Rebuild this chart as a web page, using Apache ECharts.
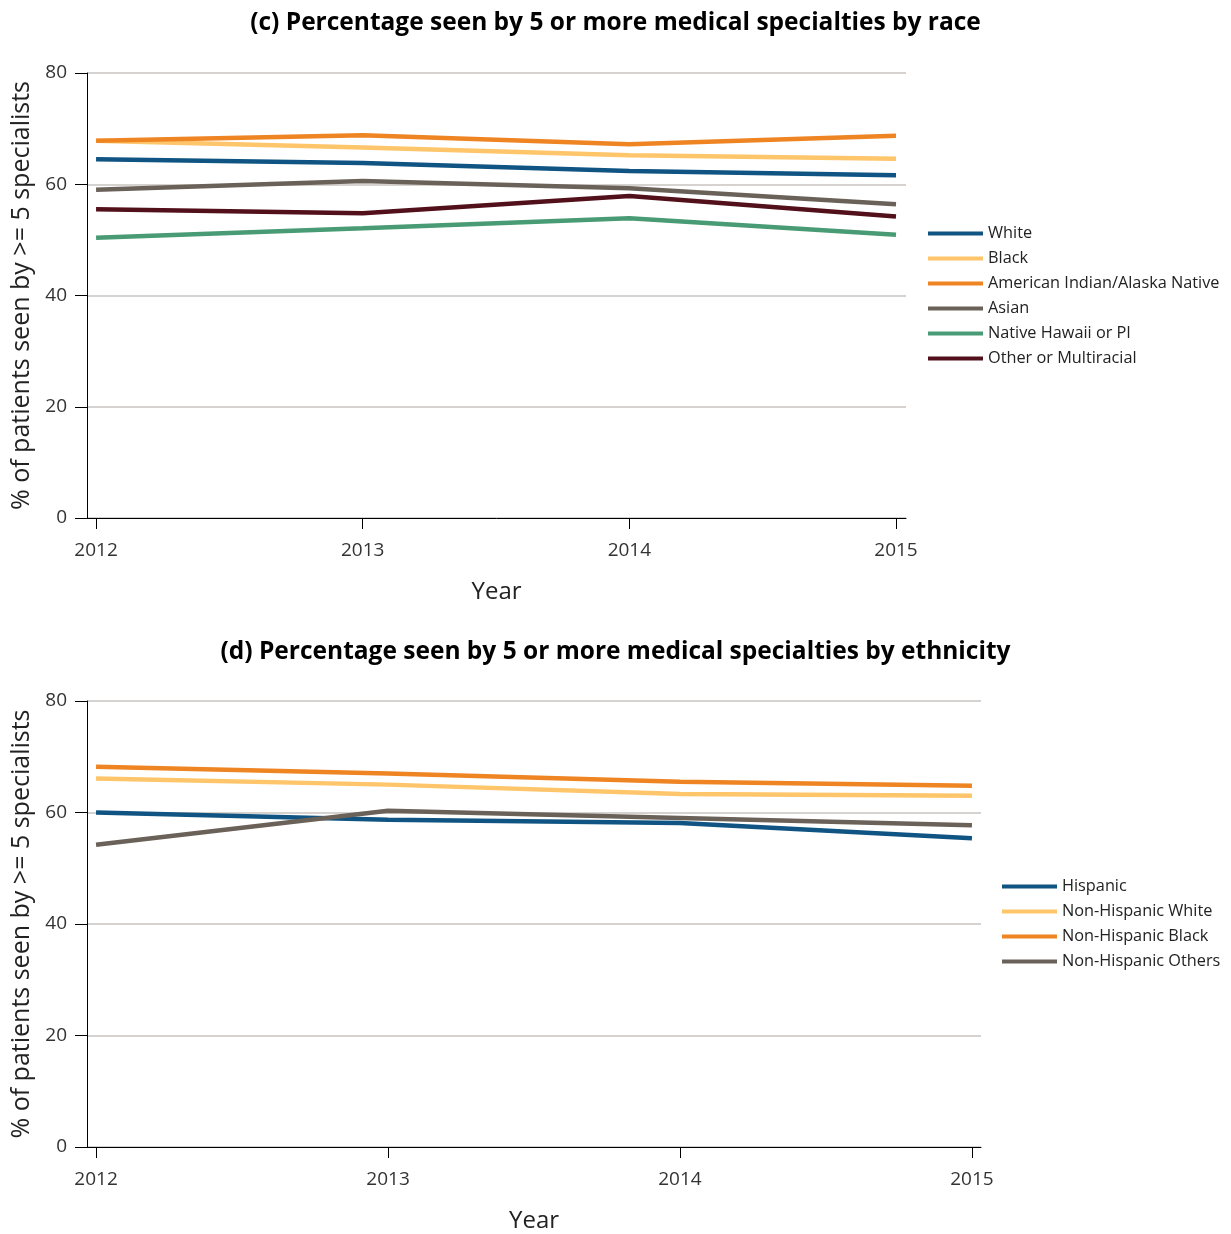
<!DOCTYPE html>
<html>
<head>
<meta charset="utf-8">
<script src="https://cdn.jsdelivr.net/npm/echarts@6/dist/echarts.min.js"></script>
<style>
html,body{margin:0;padding:0;background:#fff;}
#chart{width:1231px;height:1234px;}
</style>
</head>
<body>
<div id="chart"></div>
<script>
// ---- Data ----
const years = [2012, 2013, 2014, 2015];
const yTicks = [0, 20, 40, 60, 80];

const raceNames = ['White', 'Black', 'American Indian/Alaska Native', 'Asian', 'Native Hawaii or PI', 'Other or Multiracial'];
const raceWhite = [64.5, 63.8, 62.4, 61.6];
const raceBlack = [67.8, 66.6, 65.2, 64.6];
const raceAIAN = [67.8, 68.8, 67.2, 68.7];
const raceAsian = [59.0, 60.6, 59.3, 56.4];
const raceNHPI = [50.4, 52.1, 53.9, 50.9];
const raceOther = [55.5, 54.8, 57.9, 54.2];

const ethNames = ['Hispanic', 'Non-Hispanic White', 'Non-Hispanic Black', 'Non-Hispanic Others'];
const ethHispanic = [60.0, 58.7, 58.1, 55.4];
const ethNHWhite = [66.1, 65.0, 63.3, 63.0];
const ethNHBlack = [68.2, 67.0, 65.5, 64.8];
const ethNHOthers = [54.2, 60.3, 59.0, 57.7];

const titleTop = '(c) Percentage seen by 5 or more medical specialties by race';
const titleBottom = '(d) Percentage seen by 5 or more medical specialties by ethnicity';
const yName = '% of patients seen by >= 5 specialists';
const xName = 'Year';

// ---- Styles ----
const colors = {
  blue: '#0f5482', yellow: '#fec56a', orange: '#ee8422',
  gray: '#6a6159', green: '#489b74', maroon: '#52101a'
};
const raceColors = [colors.blue, colors.yellow, colors.orange, colors.gray, colors.green, colors.maroon];
const ethColors = [colors.blue, colors.yellow, colors.orange, colors.gray];
const FONT = '"Open Sans", sans-serif';

function pairs(vals) { return years.map((y, i) => [y, vals[i]]); }

function xAxis(gridIndex, min, max) {
  return {
    type: 'value', gridIndex, min, max,
    name: xName, nameLocation: 'middle', nameGap: 62,
    nameTextStyle: { fontFamily: FONT, fontSize: 24, color: '#222' },
    axisLine: { show: true, lineStyle: { color: '#000', width: 1 } },
    axisTick: { show: true, length: 11, customValues: years, lineStyle: { color: '#000', width: 1 } },
    axisLabel: { customValues: years, margin: 23, fontFamily: FONT, fontSize: 19, color: '#333',
                 formatter: v => String(Math.round(v)) },
    splitLine: { show: false }
  };
}
function yAxis(gridIndex) {
  return {
    type: 'value', gridIndex, min: 0, max: 80, interval: 20,
    name: yName, nameLocation: 'middle', nameGap: 53, nameRotate: 90,
    nameTextStyle: { fontFamily: FONT, fontSize: 25, color: '#222' },
    axisLine: { show: true, lineStyle: { color: '#000', width: 1 } },
    axisTick: { show: true, length: 12, lineStyle: { color: '#000', width: 1 } },
    axisLabel: { margin: 20, fontFamily: FONT, fontSize: 19, color: '#333' },
    splitLine: { show: true, lineStyle: { color: '#c9c3bf', width: 1.5 } }
  };
}
function lineSeries(name, vals, color, idx) {
  return {
    type: 'line', name, data: pairs(vals), xAxisIndex: idx, yAxisIndex: idx,
    symbol: 'none', lineStyle: { color, width: 4.5 }, itemStyle: { color },
    smooth: false, silent: true, animation: false
  };
}

const series = [];
[raceWhite, raceBlack, raceAIAN, raceAsian, raceNHPI, raceOther].forEach((v, i) =>
  series.push(lineSeries(raceNames[i], v, raceColors[i], 0)));
[ethHispanic, ethNHWhite, ethNHBlack, ethNHOthers].forEach((v, i) =>
  series.push(lineSeries(ethNames[i], v, ethColors[i], 1)));

const legendCommon = {
  orient: 'vertical', icon: 'rect', itemWidth: 55, itemHeight: 4, itemGap: 6, padding: 0,
  textStyle: { fontFamily: FONT, fontSize: 16.3, color: '#222', lineHeight: 19 }
};

const option = {
  animation: false,
  backgroundColor: '#fff',
  title: [
    { text: titleTop, left: 'center', top: 6, textStyle: { fontFamily: FONT, fontWeight: 'bold', fontSize: 24.5, color: '#000' } },
    { text: titleBottom, left: 'center', top: 635, textStyle: { fontFamily: FONT, fontWeight: 'bold', fontSize: 24.5, color: '#000' } }
  ],
  grid: [
    { left: 87, top: 73, width: 819, height: 445 },
    { left: 87, top: 701, width: 894, height: 446 }
  ],
  xAxis: [xAxis(0, 2011.966, 2015.0375), xAxis(1, 2011.969, 2015.031)],
  yAxis: [yAxis(0), yAxis(1)],
  legend: [
    Object.assign({}, legendCommon, { data: raceNames, left: 928, top: 224 }),
    Object.assign({}, legendCommon, { data: ethNames, left: 1002, top: 877 })
  ],
  series
};

const chart = echarts.init(document.getElementById('chart'), null, { renderer: 'canvas' });
chart.setOption(option);
</script>
</body>
</html>
